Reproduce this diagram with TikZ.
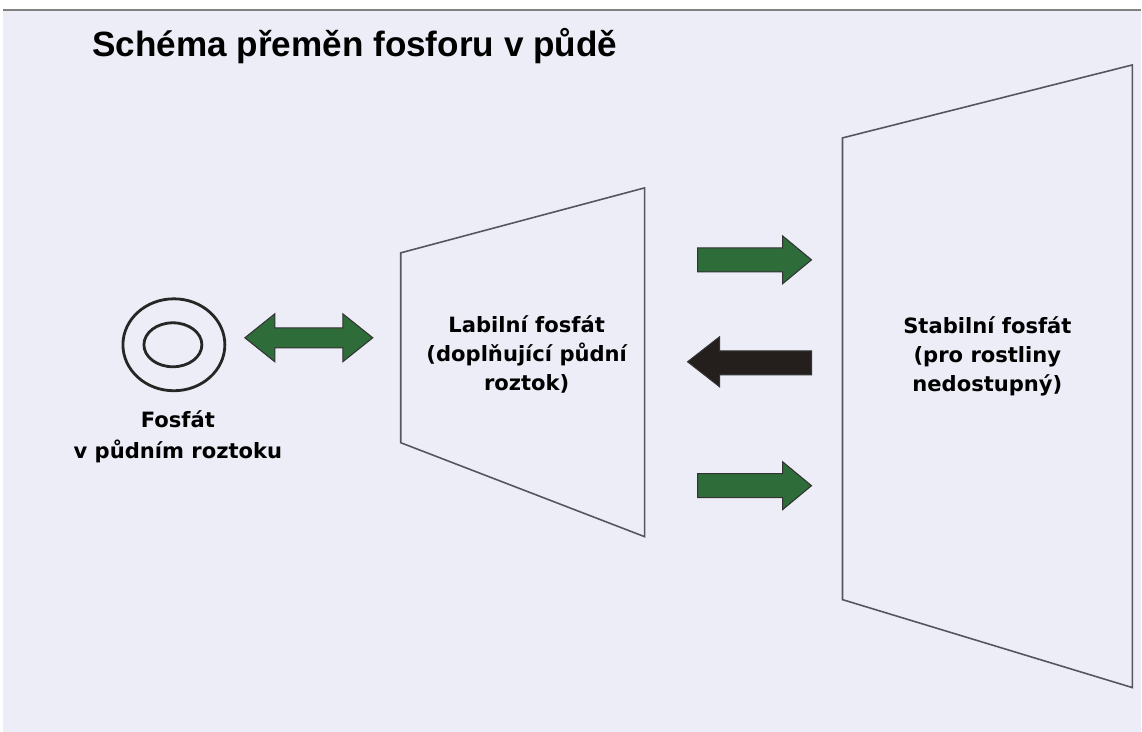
\documentclass[tikz,border=0pt]{standalone}
\usepackage{fontspec}
\setmainfont{DejaVu Sans}
\newfontfamily\titlefont{Liberation Sans}
\usepackage{xcolor}
\definecolor{bglav}{RGB}{236,237,246}
\definecolor{arrgreen}{RGB}{46,108,58}
\definecolor{arrdark}{RGB}{36,31,28}
\definecolor{edgegray}{RGB}{85,85,95}
\newcommand{\rblock}[4]{% from x, to x, center y, fill
  \draw[blockarrow, fill=#4] (#1,#3-12) -- (#2-29,#3-12) -- (#2-29,#3-24) -- (#2,#3)
    -- (#2-29,#3+24) -- (#2-29,#3+12) -- (#1,#3+12) -- cycle;}

\begin{document}
\begin{tikzpicture}[
    x=0.02cm, y=-0.02cm,
    label/.style={font=\bfseries\fontsize{12}{16.5}\selectfont, align=center, text=black},
    plane/.style={draw=edgegray, line width=0.9pt, line join=miter},
    ring/.style={draw=black!85, line width=1.6pt},
    blockarrow/.style={draw=black!80, line width=0.6pt, line join=miter},
]

% Background
\fill[white] (0,0) rectangle (1142,732);
\fill[bglav] (3,10) rectangle (1142,732);
\draw[gray, line width=0.8pt] (3,10) -- (1142,10);
\useasboundingbox (0,0) rectangle (1142,732);

% Title
\node[font=\titlefont\bfseries\fontsize{20}{24}\selectfont, anchor=base west, inner sep=0pt]
  (title) at (92,57) {Schéma přeměn fosforu v půdě};

% Soil solution phosphate
\draw[ring] (174,345) ellipse [x radius=51, y radius=46];
\draw[ring] (173,345) ellipse [x radius=29, y radius=22];
\node[label, font=\bfseries\fontsize{12}{18}\selectfont] (roztok) at (178,437) {Fosfát\\v půdním roztoku};

% Labile phosphate plane
\draw[plane] (401,253) -- (645,188) -- (645,537) -- (401,443) -- cycle;
\node[label] (labil) at (527,355) {Labilní fosfát\\(doplňující půdní\\roztok)};

% Stable phosphate plane
\draw[plane] (843,138) -- (1133,65) -- (1133,688) -- (843,600) -- cycle;
\node[label] (stabil) at (988,357) {Stabilní fosfát\\(pro rostliny\\nedostupný)};

% Exchange arrow
\draw[blockarrow, fill=arrgreen] (245,338) -- (275,314) -- (275,328) -- (343,328) -- (343,314)
  -- (373,338) -- (343,362) -- (343,348) -- (275,348) -- (275,362) -- cycle;

% Fixation and release arrows
\foreach \yy in {260,486}
  \rblock{698}{812}{\yy}{arrgreen};
\draw[blockarrow, fill=arrdark] (812,351) -- (720,351) -- (720,337) -- (688,362)
  -- (720,387) -- (720,375) -- (812,375) -- cycle;

\end{tikzpicture}
\end{document}
